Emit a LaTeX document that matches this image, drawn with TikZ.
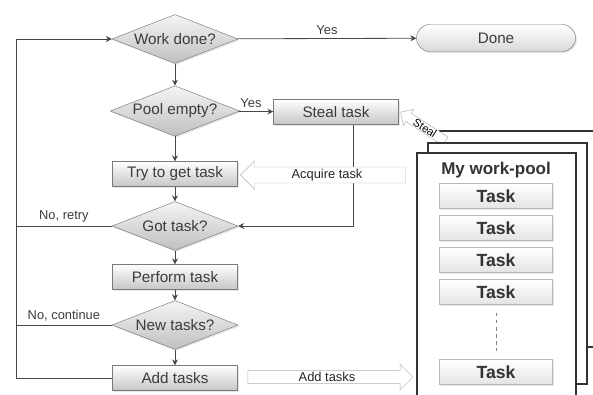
\documentclass[tikz,border=0pt]{standalone}
\usepackage{fontspec}
\setmainfont{Liberation Sans}
\usetikzlibrary{shapes.geometric,shapes.arrows,arrows.meta,shadows}
\definecolor{txt}{HTML}{3C3C3C}
\definecolor{edge}{HTML}{7A7A7A}
\definecolor{wire}{HTML}{474747}

\begin{document}
\begin{tikzpicture}[x=0.03cm, y=-0.03cm,
	every node/.style={text=txt, font=\fontsize{13}{15}\selectfont},
	shade/.style={drop shadow={opacity=.2, shadow xshift=1.2pt, shadow yshift=-1.2pt}},
	decide/.style={diamond, draw=edge, aspect=2.57, inner sep=1pt, minimum width=3.78cm, minimum height=1.47cm, top color=gray!8, bottom color=gray!50, shade},
	act/.style={rectangle, draw=edge, minimum width=3.75cm, minimum height=0.75cm, top color=white, bottom color=gray!45, shade},
	task/.style={rectangle, draw=gray!55, minimum width=3.39cm, minimum height=0.75cm, top color=white, bottom color=gray!22, text=black!80, font=\bfseries\fontsize{15}{17}\selectfont, shade},
	pool/.style={draw=black!80, line width=1.5pt, fill=white},
	lbl/.style={font=\fontsize{11}{13}\selectfont},
	hollow/.style={single arrow, draw=gray!60, fill=white, single arrow head extend=0.18cm, minimum height=4.95cm, inner ysep=1.5pt, text=black!85, font=\fontsize{11}{13}\selectfont},
	line/.style={draw=wire, line width=0.7pt},
	flow/.style={line, -{Stealth[length=5pt,width=5pt]}}]
	\useasboundingbox (0,0) rectangle (593,394);

	\node[decide] (work) at (175,39) {Work done?};
	\node[draw=edge, rounded corners=0.4cm, minimum width=4.77cm, minimum height=0.81cm, top color=white, bottom color=gray!30, shade] (done) at (496,38) {Done};
	\node[decide] (pool) at (175,111) {Pool empty?};
	\node[act] (steal) at (336,112) {Steal task};
	\node[act] (try) at (175,174) {Try to get task};
	\node[decide] (got) at (175,226) {Got task?};
	\node[act] (perform) at (175,277) {Perform task};
	\node[decide] (new) at (175,325) {New tasks?};
	\node[act] (add) at (175,378) {Add tasks};
	\coordinate (lt) at (16,39);
	\coordinate (lb) at (16,378);

	\draw[flow] (work) -- (pool);
	\draw[flow] (pool) -- (try);
	\draw[flow] (try) -- (got);
	\draw[flow] (got) -- (perform);
	\draw[flow] (perform) -- (new);
	\draw[flow] (new) -- (add);
	\draw[flow] (work) -- node[lbl, above] {Yes} (done);
	\draw[flow] (pool) -- node[lbl, above, pos=.35] {Yes} (steal);
	\draw[flow] ([xshift=0.51cm]steal.south) |- (got.east);
	\draw[flow] (add.west) -- (lb) -- (lt) -- (work.west);
	\draw[line] (got.west) -- node[lbl, above] {No, retry} (got.west -| lt);
	\draw[line] (new.west) -- node[lbl, above] {No, continue} (new.west -| lt);

	\node[hollow, shape border rotate=180] (acquire) at (327,175) {Acquire task};
	\node[hollow] (push) at (327,377) {Add tasks};

	% stacked pools
	\draw[pool] (440,131) rectangle (620,347);
	\node[hollow, rotate=-33, shape border rotate=180, minimum height=1.6cm, single arrow head extend=0.14cm, inner ysep=0.5pt, inner xsep=2pt, text=black, font=\fontsize{9.5}{10}\selectfont] (grab) at (425,128) {Steal};
	\draw[pool] (428,143) rectangle (587,384);
	\draw[pool] (417,153) rectangle (576,420);
	\node[text=black!80, font=\bfseries\fontsize{14.5}{17}\selectfont] (title) at (496,170) {My work-pool};
	\foreach \n/\y in {1/196, 2/228, 3/260, 4/292, 5/372}
		\node[task] (t\n) at (496,\y) {Task};
	\draw[gray, dashed, shorten <=7pt, shorten >=7pt] (t4) -- (t5);
\end{tikzpicture}
\end{document}
